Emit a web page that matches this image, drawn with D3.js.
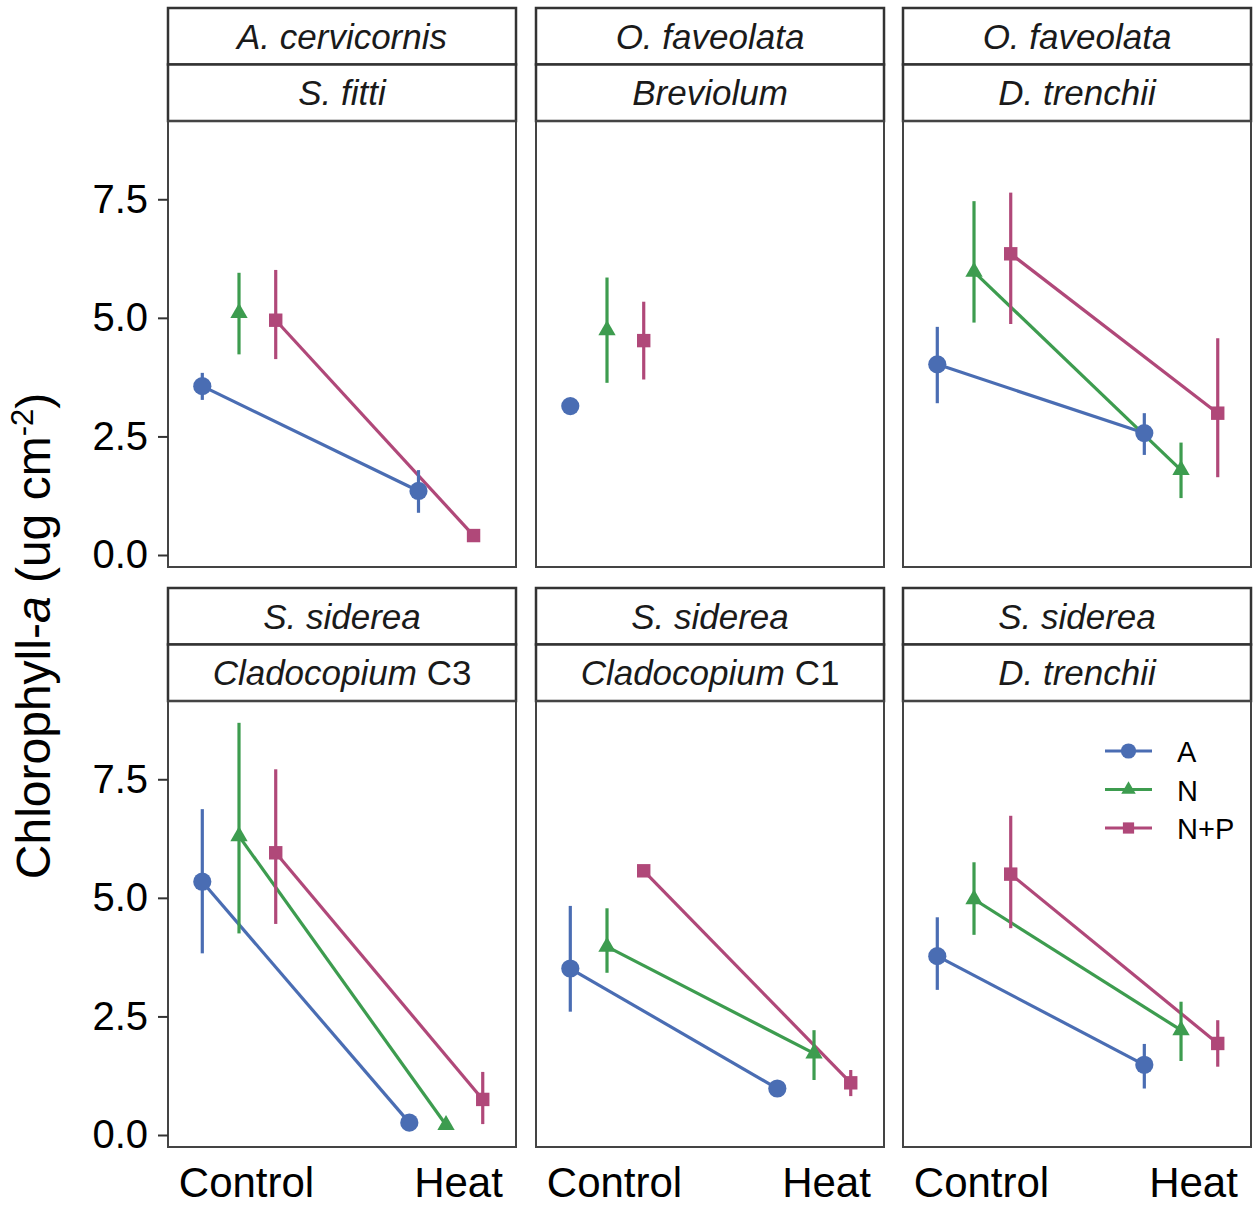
<!DOCTYPE html>
<html>
<head>
<meta charset="utf-8">
<script src="https://cdn.jsdelivr.net/npm/d3@7"></script>
<style>
  body { margin: 0; background: #fff; }
  text { font-family: "Liberation Sans", Arial, sans-serif; }
</style>
</head>
<body>
<div id="chart-area"></div>
<script>
// DATA
var coral = ["A. cervicornis", "O. faveolata", "O. faveolata", "S. siderea", "S. siderea", "S. siderea"];
var symbiont = ["S. fitti", "Breviolum", "D. trenchii", "Cladocopium C3", "Cladocopium C1", "D. trenchii"];
var treatments = ["Control", "Heat"];
var groups = ["A", "N", "N+P"];

// [control, heat] per panel, null = no data
var meanA  = [[3.56, 1.35], [3.14, null], [4.02, 2.57], [5.34, 0.26], [3.51, 0.98], [3.77, 1.48]];
var lowA   = [[3.27, 0.89], [3.10, null], [3.20, 2.11], [3.83, 0.26], [2.60, 0.93], [3.06, 0.98]];
var highA  = [[3.84, 1.79], [3.18, null], [4.81, 2.99], [6.87, 0.26], [4.83, 1.05], [4.59, 1.92]];

var meanN  = [[5.10, null], [4.74, null], [5.97, 1.79], [6.30, 0.21], [3.97, 1.72], [4.97, 2.21]];
var lowN   = [[4.23, null], [3.63, null], [4.90, 1.20], [4.25, 0.21], [3.42, 1.16], [4.22, 1.56]];
var highN  = [[5.95, null], [5.85, null], [7.46, 2.37], [8.69, 0.21], [4.78, 2.21], [5.75, 2.81]];

var meanNP = [[4.95, 0.41], [4.52, null], [6.35, 2.99], [5.95, 0.75], [5.57, 1.10], [5.50, 1.93]];
var lowNP  = [[4.13, 0.38], [3.70, null], [4.87, 1.64], [4.45, 0.23], [5.57, 0.82], [4.36, 1.44]];
var highNP = [[6.01, 0.44], [5.34, null], [7.64, 4.57], [7.71, 1.33], [5.57, 1.37], [6.73, 2.42]];

var yTicks = [0, 2.5, 5, 7.5];

var means = [meanA, meanN, meanNP],
	lows = [lowA, lowN, lowNP],
	highs = [highA, highN, highNP];

var colors = ["#4a6db3", "#3d9c4f", "#b04879"];
var shapes = [d3.symbolCircle, d3.symbolTriangle, d3.symbolSquare];
var shapeSize = [260, 130, 180];

// LAYOUT
var colX = [168, 536, 903],
	rowY = [8, 588],
	panelW = 348,
	stripH = 56.5,
	plotH = 446;

var svg = d3.select("#chart-area")
	.append("svg")
	.attr("width", 1258)
	.attr("height", 1206);

svg.append("rect").attr("width", 1258).attr("height", 1206).attr("fill", "#fff");

// SCALES
var x = d3.scaleLinear()
	.domain([0.657, 2.338])
	.range([0, panelW]);

var y = d3.scaleLinear()
	.domain([-0.253, 9.15])
	.range([plotH, 0]);

var dodgeWidth = 0.532;

function dodge(pos, i, present) {
	var n = present.length;
	var k = present.indexOf(i);
	return pos + (k - (n - 1) / 2) * dodgeWidth / n;
}

function stripLabel(sel, label) {
	var m = label.match(/^(.*?)( C\d)$/);
	if (m) {
		sel.append("tspan").attr("font-style", "italic").text(m[1]);
		sel.append("tspan").text(m[2]);
	} else {
		sel.append("tspan").attr("font-style", "italic").text(label);
	}
}

coral.forEach(function (c, p) {
	var col = p % 3, row = Math.floor(p / 3);
	var g = svg.append("g")
		.attr("transform", "translate(" + colX[col] + "," + rowY[row] + ")");

	// STRIPS
	[c, symbiont[p]].forEach(function (lab, s) {
		g.append("rect")
			.attr("x", 0).attr("y", s * stripH)
			.attr("width", panelW).attr("height", stripH)
			.attr("fill", "#fff")
			.attr("stroke", "#333")
			.attr("stroke-width", 2.5);
		var t = g.append("text")
			.attr("x", panelW / 2)
			.attr("y", s * stripH + stripH / 2 + 12.5)
			.attr("text-anchor", "middle")
			.attr("font-size", "35px")
			.attr("fill", "#1a1a1a");
		stripLabel(t, lab);
	});

	var pg = g.append("g").attr("transform", "translate(0," + (2 * stripH) + ")");

	// which groups exist at each treatment
	var present = treatments.map(function (tr, ti) {
		return groups.map(function (gr, gi) { return gi; })
			.filter(function (gi) { return means[gi][p][ti] !== null; });
	});

	// LINES
	groups.forEach(function (gr, gi) {
		var m = means[gi][p];
		if (m[0] !== null && m[1] !== null) {
			pg.append("line")
				.attr("x1", x(dodge(1, gi, present[0])))
				.attr("x2", x(dodge(2, gi, present[1])))
				.attr("y1", y(m[0]))
				.attr("y2", y(m[1]))
				.attr("stroke", colors[gi])
				.attr("stroke-width", 3.2);
		}
	});

	// ERROR BARS + POINTS
	groups.forEach(function (gr, gi) {
		treatments.forEach(function (tr, ti) {
			var v = means[gi][p][ti];
			if (v === null) return;
			var cx = x(dodge(ti + 1, gi, present[ti]));
			pg.append("line")
				.attr("x1", cx).attr("x2", cx)
				.attr("y1", y(lows[gi][p][ti]))
				.attr("y2", y(highs[gi][p][ti]))
				.attr("stroke", colors[gi])
				.attr("stroke-width", 3.2);
			pg.append("path")
				.attr("d", d3.symbol().type(shapes[gi]).size(shapeSize[gi])())
				.attr("transform", "translate(" + cx + "," + y(v) + ")")
				.attr("fill", colors[gi]);
		});
	});

	// PANEL BORDER
	pg.append("rect")
		.attr("width", panelW).attr("height", plotH)
		.attr("fill", "none")
		.attr("stroke", "#444")
		.attr("stroke-width", 2);

	// Y AXIS
	if (col === 0) {
		var yAxis = pg.append("g")
			.call(d3.axisLeft(y).tickValues(yTicks).tickFormat(d3.format(".1f")).tickSize(10).tickPadding(10));
		yAxis.select(".domain").remove();
		yAxis.selectAll("line").attr("stroke", "#333").attr("stroke-width", 2);
		yAxis.selectAll("text").attr("font-size", "40px").attr("fill", "#000")
			.style("font-family", "'Liberation Sans', Arial, sans-serif");
	}

	// X AXIS
	if (row === 1) {
		var xAxis = pg.append("g")
			.attr("transform", "translate(0," + plotH + ")")
			.call(d3.axisBottom(x).tickValues([1, 2])
				.tickFormat(function (d) { return treatments[d - 1]; })
				.tickSize(0).tickPadding(20));
		xAxis.select(".domain").remove();
		xAxis.selectAll("text").attr("font-size", "42px").attr("fill", "#000")
			.attr("dx", function (d) { return d === 1 ? 7 : 12; })
			.style("font-family", "'Liberation Sans', Arial, sans-serif");
	}

	// LEGEND
	if (p === 5) {
		var lg = pg.append("g");
		groups.forEach(function (gr, gi) {
			var ly = 50 + gi * 38.5;
			lg.append("line")
				.attr("x1", 202).attr("x2", 249)
				.attr("y1", ly).attr("y2", ly)
				.attr("stroke", colors[gi]).attr("stroke-width", 3.2);
			lg.append("path")
				.attr("d", d3.symbol().type(shapes[gi]).size(shapeSize[gi] * 0.7)())
				.attr("transform", "translate(225.5," + ly + ")")
				.attr("fill", colors[gi]);
			lg.append("text")
				.attr("x", 274).attr("y", ly + 11)
				.attr("font-size", "29px")
				.attr("fill", "#000")
				.text(gr);
		});
	}
});

// Y TITLE
var yTitle = svg.append("text")
	.attr("transform", "translate(50,636) rotate(-90)")
	.attr("text-anchor", "middle")
	.attr("font-size", "48px")
	.attr("fill", "#000");
yTitle.append("tspan").text("Chlorophyll-");
yTitle.append("tspan").attr("font-style", "italic").text("a");
yTitle.append("tspan").text(" (ug cm");
yTitle.append("tspan").attr("font-size", "31px").attr("dy", "-17").text("-2");
yTitle.append("tspan").attr("dy", "17").text(")");
</script>
</body>
</html>
